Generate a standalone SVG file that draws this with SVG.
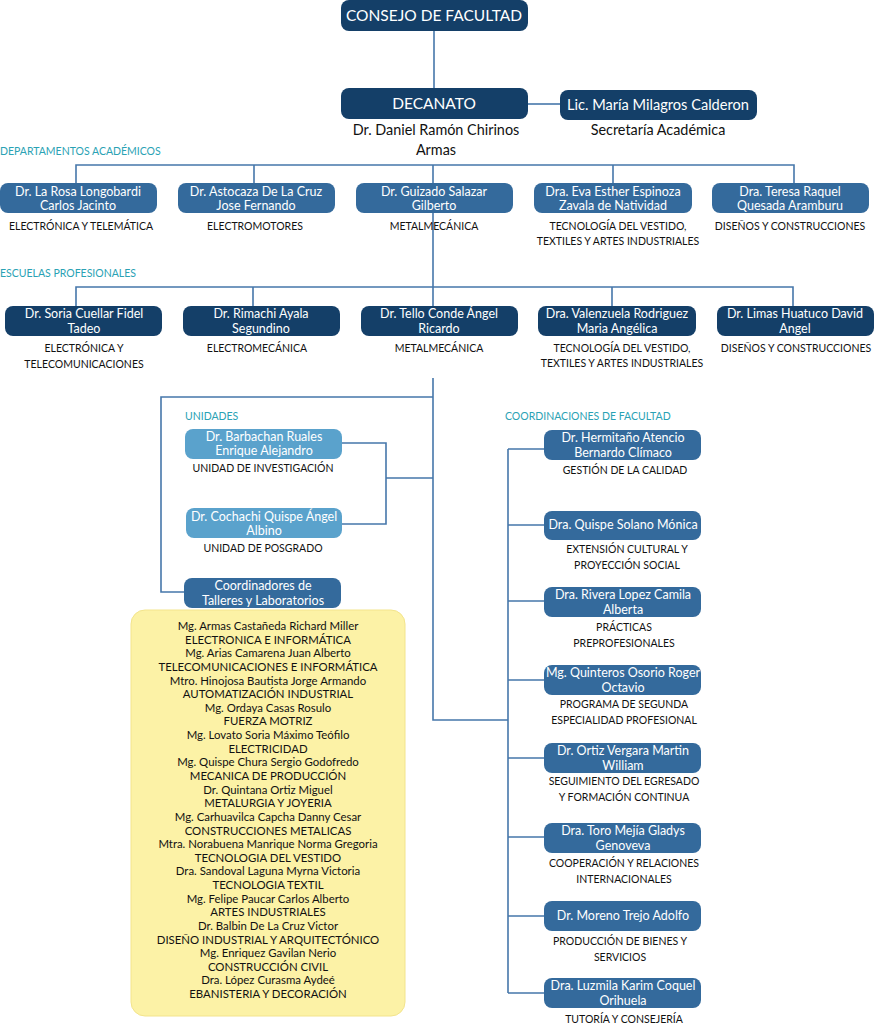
<svg xmlns="http://www.w3.org/2000/svg" width="874" height="1024" viewBox="0 0 874 1024">
<style>
text{font-family:Lato,"Open Sans","Liberation Sans",sans-serif;text-anchor:middle}
.nv{fill:#143F68}
.md{fill:#346A9C}
.lt{fill:#5AA2CC}
.w{fill:#fff;font-size:12.5px}
.wb{fill:#fff;font-size:15.5px}
.k{fill:#111;font-size:10.5px}
.kb{fill:#111;font-size:14.4px}
.sec{fill:#2AA2B4;font-size:10.5px;text-anchor:start}
.ln{stroke:#4677AA;stroke-width:1.6;fill:none}
.y{fill:#111;font-size:11.4px}
</style>
<g id="connectors">
<path class="ln" d="M434 31V88"/>
<path class="ln" d="M528 104H560" stroke-width="3"/>
<path class="ln" d="M76 183V165H794V183M254 165V183M433 165V183M613 165V183"/>
<path class="ln" d="M433 213V287"/>
<path class="ln" d="M76 306V287H793V306M253 287V306M433 287V306M612 287V306"/>
<path class="ln" d="M433 378V720H508"/>
<path class="ln" d="M433 397H161V592H184"/>
<path class="ln" d="M342 443H386V524H342M386 478H433"/>
<path class="ln" d="M508 449V993M508 449H544M508 525H544M508 601H544M508 680H544M508 758H544M508 837H544M508 916H544M508 993H544"/>
</g>
<g id="consejo"><rect class="nv" x="341" y="0" width="187" height="31" rx="8"/><text class="wb" x="434" y="21">CONSEJO DE FACULTAD</text></g>
<g id="decanato"><rect class="nv" x="341" y="88" width="187" height="31" rx="8"/><text class="wb" x="434" y="109">DECANATO</text>
<text class="kb" x="436" y="135">Dr. Daniel Ramón Chirinos</text><text class="kb" x="436" y="155">Armas</text></g>
<g id="secretaria"><rect class="nv" x="560" y="90" width="197" height="30" rx="8"/><text fill="#fff" font-size="14.6" x="658" y="110">Lic. María Milagros Calderon</text>
<text class="kb" x="658" y="135">Secretaría Académica</text></g>

<text class="sec" x="0" y="155">DEPARTAMENTOS ACADÉMICOS</text>
<g id="dep1"><rect class="md" x="0" y="183" width="157" height="30" rx="8"/><text class="w" x="78" y="196">Dr. La Rosa Longobardi</text><text class="w" x="78" y="210">Carlos Jacinto</text><text class="k" x="81" y="230">ELECTRÓNICA Y TELEMÁTICA</text></g>
<g id="dep2"><rect class="md" x="178" y="183" width="157" height="30" rx="8"/><text class="w" x="256" y="196">Dr. Astocaza De La Cruz</text><text class="w" x="256" y="210">Jose Fernando</text><text class="k" x="255" y="230">ELECTROMOTORES</text></g>
<g id="dep3"><rect class="md" x="356" y="183" width="157" height="30" rx="8"/><text class="w" x="434" y="196">Dr. Guizado Salazar</text><text class="w" x="434" y="210">Gilberto</text><text class="k" x="434" y="230">METALMECÁNICA</text></g>
<g id="dep4"><rect class="md" x="534" y="183" width="158" height="30" rx="8"/><text class="w" x="613" y="196">Dra. Eva Esther Espinoza</text><text class="w" x="613" y="210">Zavala de Natividad</text><text class="k" x="618" y="230">TECNOLOGÍA DEL VESTIDO,</text><text class="k" x="618" y="245">TEXTILES Y ARTES INDUSTRIALES</text></g>
<g id="dep5"><rect class="md" x="712" y="183" width="157" height="30" rx="8"/><text class="w" x="790" y="196">Dra. Teresa Raquel</text><text class="w" x="790" y="210">Quesada Aramburu</text><text class="k" x="790" y="230">DISEÑOS Y CONSTRUCCIONES</text></g>

<text class="sec" x="0" y="277">ESCUELAS PROFESIONALES</text>
<g id="esc1"><rect class="nv" x="5" y="306" width="157" height="30" rx="8"/><text class="w" x="84" y="318">Dr. Soria Cuellar Fidel</text><text class="w" x="84" y="333">Tadeo</text><text class="k" x="84" y="352">ELECTRÓNICA Y</text><text class="k" x="84" y="368">TELECOMUNICACIONES</text></g>
<g id="esc2"><rect class="nv" x="183" y="306" width="157" height="30" rx="8"/><text class="w" x="261" y="318">Dr. Rimachi Ayala</text><text class="w" x="261" y="333">Segundino</text><text class="k" x="257" y="352">ELECTROMECÁNICA</text></g>
<g id="esc3"><rect class="nv" x="361" y="306" width="157" height="30" rx="8"/><text class="w" x="439" y="318">Dr. Tello Conde Ángel</text><text class="w" x="439" y="333">Ricardo</text><text class="k" x="439" y="352">METALMECÁNICA</text></g>
<g id="esc4"><rect class="nv" x="538" y="306" width="158" height="30" rx="8"/><text class="w" x="617" y="318">Dra. Valenzuela Rodriguez</text><text class="w" x="617" y="333">Maria Angélica</text><text class="k" x="622" y="352">TECNOLOGÍA DEL VESTIDO,</text><text class="k" x="622" y="367">TEXTILES Y ARTES INDUSTRIALES</text></g>
<g id="esc5"><rect class="nv" x="717" y="306" width="157" height="30" rx="8"/><text class="w" x="795" y="318">Dr. Limas Huatuco David</text><text class="w" x="795" y="333">Angel</text><text class="k" x="796" y="352">DISEÑOS Y CONSTRUCCIONES</text></g>

<text class="sec" x="185" y="420">UNIDADES</text>
<g id="uni1"><rect class="lt" x="185" y="429" width="157" height="30" rx="8"/><text class="w" x="264" y="441">Dr. Barbachan Ruales</text><text class="w" x="264" y="455">Enrique Alejandro</text><text class="k" x="263" y="472">UNIDAD DE INVESTIGACIÓN</text></g>
<g id="uni2"><rect class="lt" x="186" y="508" width="156" height="30" rx="8"/><text class="w" x="264" y="521">Dr. Cochachi Quispe Ángel</text><text class="w" x="264" y="535">Albino</text><text class="k" x="263" y="552">UNIDAD DE POSGRADO</text></g>
<g id="coordtall"><rect class="md" x="184" y="578" width="157" height="30" rx="8"/><text class="w" x="263" y="590">Coordinadores de</text><text class="w" x="263" y="605">Talleres y Laboratorios</text></g>
<g id="talleres"><rect x="131" y="610" width="274" height="406" rx="14" fill="#FCF2A6" stroke="#F3E48C" stroke-width="1"/>
<text class="y" x="268" y="630">Mg. Armas Castañeda Richard Miller</text>
<text class="y" x="268" y="643.6">ELECTRONICA E INFORMÁTICA</text>
<text class="y" x="268" y="657.3">Mg. Arias Camarena Juan Alberto</text>
<text class="y" x="268" y="670.9">TELECOMUNICACIONES E INFORMÁTICA</text>
<text class="y" x="268" y="684.5">Mtro. Hinojosa Bautista Jorge Armando</text>
<text class="y" x="268" y="698.2">AUTOMATIZACIÓN INDUSTRIAL</text>
<text class="y" x="268" y="711.8">Mg. Ordaya Casas Rosulo</text>
<text class="y" x="268" y="725.4">FUERZA MOTRIZ</text>
<text class="y" x="268" y="739">Mg. Lovato Soria Máximo Teófilo</text>
<text class="y" x="268" y="752.7">ELECTRICIDAD</text>
<text class="y" x="268" y="766.3">Mg. Quispe Chura Sergio Godofredo</text>
<text class="y" x="268" y="779.9">MECANICA DE PRODUCCIÓN</text>
<text class="y" x="268" y="793.6">Dr. Quintana Ortiz Miguel</text>
<text class="y" x="268" y="807.2">METALURGIA Y JOYERIA</text>
<text class="y" x="268" y="820.8">Mg. Carhuavilca Capcha Danny Cesar</text>
<text class="y" x="268" y="834.5">CONSTRUCCIONES METALICAS</text>
<text class="y" x="268" y="848.1">Mtra. Norabuena Manrique Norma Gregoria</text>
<text class="y" x="268" y="861.7">TECNOLOGIA DEL VESTIDO</text>
<text class="y" x="268" y="875.4">Dra. Sandoval Laguna Myrna Victoria</text>
<text class="y" x="268" y="889">TECNOLOGIA TEXTIL</text>
<text class="y" x="268" y="902.6">Mg. Felipe Paucar Carlos Alberto</text>
<text class="y" x="268" y="916.3">ARTES INDUSTRIALES</text>
<text class="y" x="268" y="929.9">Dr. Balbin De La Cruz Victor</text>
<text class="y" x="268" y="943.5">DISEÑO INDUSTRIAL Y ARQUITECTÓNICO</text>
<text class="y" x="268" y="957.2">Mg. Enriquez Gavilan Nerio</text>
<text class="y" x="268" y="970.8">CONSTRUCCIÓN CIVIL</text>
<text class="y" x="268" y="984.4">Dra. López Curasma Aydeé</text>
<text class="y" x="268" y="998">EBANISTERIA Y DECORACIÓN</text>
</g>

<text class="sec" x="505" y="420">COORDINACIONES DE FACULTAD</text>
<g id="co1"><rect class="md" x="544" y="430" width="157" height="30" rx="8"/><text class="w" x="623" y="442">Dr. Hermitaño Atencio</text><text class="w" x="623" y="457">Bernardo Clímaco</text><text class="k" x="625" y="474">GESTIÓN DE LA CALIDAD</text></g>
<g id="co2"><rect class="md" x="544" y="511" width="157" height="29" rx="8"/><text class="w" x="623" y="529">Dra. Quispe Solano Mónica</text><text class="k" x="627" y="553">EXTENSIÓN CULTURAL Y</text><text class="k" x="627" y="569">PROYECCIÓN SOCIAL</text></g>
<g id="co3"><rect class="md" x="544" y="587" width="157" height="30" rx="8"/><text class="w" x="623" y="599">Dra. Rivera Lopez Camila</text><text class="w" x="623" y="614">Alberta</text><text class="k" x="624" y="631">PRÁCTICAS</text><text class="k" x="624" y="647">PREPROFESIONALES</text></g>
<g id="co4"><rect class="md" x="544" y="665" width="157" height="30" rx="8"/><text class="w" x="623" y="677">Mg. Quinteros Osorio Roger</text><text class="w" x="623" y="692">Octavio</text><text class="k" x="624" y="708">PROGRAMA DE SEGUNDA</text><text class="k" x="624" y="724">ESPECIALIDAD PROFESIONAL</text></g>
<g id="co5"><rect class="md" x="544" y="743" width="157" height="30" rx="8"/><text class="w" x="623" y="755">Dr. Ortiz Vergara Martin</text><text class="w" x="623" y="770">William</text><text class="k" x="624" y="785">SEGUIMIENTO DEL EGRESADO</text><text class="k" x="624" y="801">Y FORMACIÓN CONTINUA</text></g>
<g id="co6"><rect class="md" x="544" y="823" width="157" height="30" rx="8"/><text class="w" x="623" y="835">Dra. Toro Mejía Gladys</text><text class="w" x="623" y="850">Genoveva</text><text class="k" x="624" y="867">COOPERACIÓN Y RELACIONES</text><text class="k" x="624" y="883">INTERNACIONALES</text></g>
<g id="co7"><rect class="md" x="544" y="901" width="157" height="30" rx="8"/><text class="w" x="623" y="920">Dr. Moreno Trejo Adolfo</text><text class="k" x="620" y="945">PRODUCCIÓN DE BIENES Y</text><text class="k" x="620" y="961">SERVICIOS</text></g>
<g id="co8"><rect class="md" x="544" y="978" width="157" height="30" rx="8"/><text class="w" x="623" y="990">Dra. Luzmila Karim Coquel</text><text class="w" x="623" y="1005">Orihuela</text><text class="k" x="624" y="1023">TUTORÍA Y CONSEJERÍA</text></g>
</svg>
